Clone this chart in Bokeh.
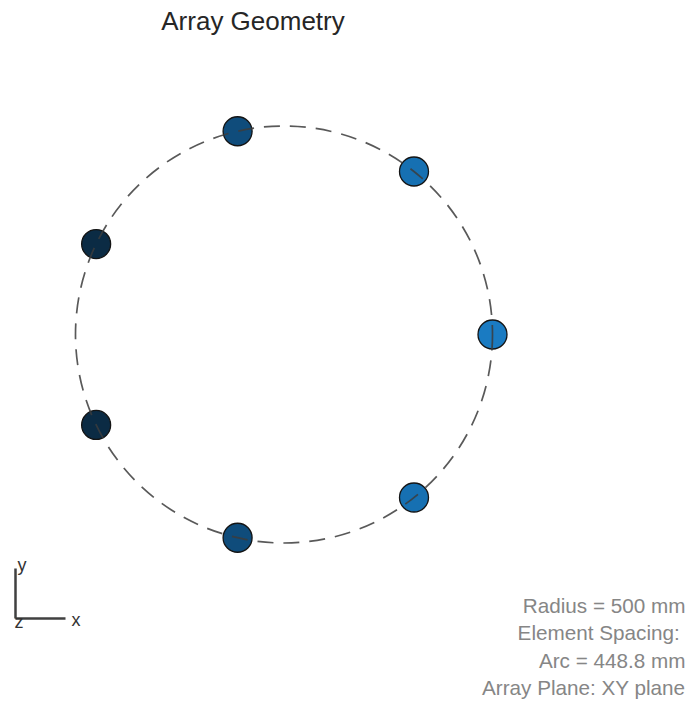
import numpy as np
from bokeh.plotting import figure
from bokeh.models import Range1d, Label, Arrow
from bokeh.embed import file_html
from bokeh.resources import INLINE

# ---- data ----
radius_mm = 500
element_angles_deg = [0.0, 51.43, 102.86, 154.29, 205.71, 257.14, 308.57]
element_colors = ["#1a7bc2", "#1670b2", "#0f4c7b", "#0b2b44", "#0b2b44", "#0f4c7b", "#1670b2"]
info_lines = ["Radius = 500 mm", "Element Spacing: ", "Arc = 448.8 mm", "Array Plane: XY plane"]
title_text = "Array Geometry"

ang = np.deg2rad(element_angles_deg)
ex = radius_mm * np.cos(ang)
ey = radius_mm * np.sin(ang)

W, H = 693, 704
scale = 0.417          # px per mm
cx, cy = 283.5, 334.0  # circle centre in canvas px (from top-left)

p = figure(width=W, height=H, output_backend="svg", toolbar_location=None,
           x_range=Range1d(-cx / scale, (W - cx) / scale),
           y_range=Range1d(-(H - cy) / scale, cy / scale),
           min_border=0)
p.axis.visible = False
p.grid.visible = False
p.outline_line_color = None
p.background_fill_color = "white"
p.border_fill_color = "white"

p.scatter(ex, ey, size=29, fill_color=element_colors, line_color="#141414", line_width=1.3)
p.circle(x=[0], y=[0], radius=radius_mm, fill_color=None, line_color="#3c3c3c",
         line_alpha=0.85, line_width=1.7, line_dash="16 10")

# title
p.add_layout(Label(x=252.5, y=H - 20, x_units="screen", y_units="screen", text=title_text,
                   text_align="center", text_baseline="alphabetic", text_font="Liberation Sans",
                   text_font_size="26px", text_color="#262626"))

# info text (bottom right)
for i, t in enumerate(info_lines):
    p.add_layout(Label(x=685, y=H - 605 - i * 27.3, x_units="screen", y_units="screen", text=t,
                       text_align="right", text_baseline="alphabetic", text_font="Liberation Sans",
                       text_font_size="20.7px", text_color="#868686"))

# axis triad
ox, oy = 15, H - 618
for xe, ye in [(15, H - 568), (65, H - 618)]:
    p.add_layout(Arrow(x_start=ox, y_start=oy, x_end=xe, y_end=ye, start_units="screen",
                       end_units="screen", start=None, end=None, line_color="#404040", line_width=2.5))
for t, lx, ly in [("y", 17, H - 564), ("x", 71, H - 619), ("z", 14, H - 621)]:
    p.add_layout(Label(x=lx, y=ly, x_units="screen", y_units="screen", text=t,
                       text_align="left", text_baseline="alphabetic", text_font="Liberation Sans",
                       text_font_size="18px", text_color="#333333"))

open("out.html", "w").write(file_html(p, INLINE))
